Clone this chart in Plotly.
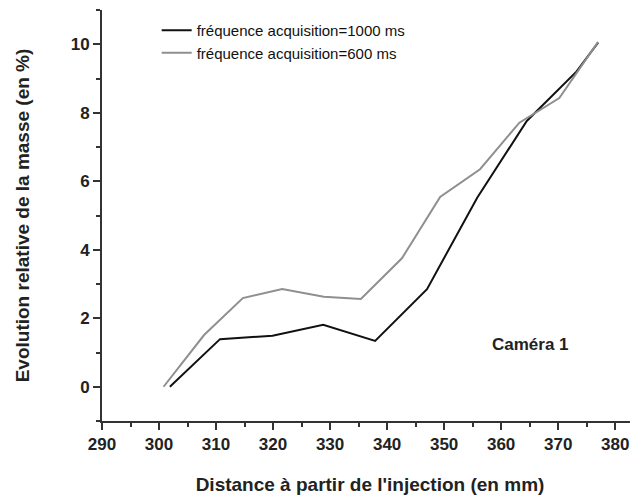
import plotly.graph_objects as go

x_1000 = [301.9, 310.7, 319.9, 328.8, 337.9, 347.0, 355.8, 364.5, 373.2, 377.0]
y_1000 = [0.0, 1.39, 1.49, 1.81, 1.34, 2.85, 5.52, 7.76, 9.2, 10.05]

x_600 = [300.8, 307.9, 314.7, 321.6, 328.9, 335.4, 342.6, 349.3, 356.3, 363.2, 370.2, 377.0]
y_600 = [0.0, 1.51, 2.59, 2.85, 2.63, 2.56, 3.75, 5.54, 6.35, 7.71, 8.43, 10.07]

x_ticks = [290, 300, 310, 320, 330, 340, 350, 360, 370, 380]
y_ticks = [0, 2, 4, 6, 8, 10]

font_family = "Liberation Sans, Arial, sans-serif"

fig = go.Figure()
fig.add_trace(go.Scatter(x=x_1000, y=y_1000, mode="lines",
                         name="fréquence acquisition=1000 ms",
                         line=dict(color="#111111", width=2)))
fig.add_trace(go.Scatter(x=x_600, y=y_600, mode="lines",
                         name="fréquence acquisition=600 ms",
                         line=dict(color="#8f8f8f", width=2)))

fig.add_annotation(x=0.80, y=0.185, xref="paper", yref="paper",
                   xanchor="center", yanchor="middle",
                   text="<b>Caméra 1</b>", showarrow=False,
                   font=dict(size=17, color="#222222", family=font_family))

fig.update_layout(
    width=630, height=491,
    margin=dict(l=94, r=0, t=2, b=78),
    paper_bgcolor="white", plot_bgcolor="white",
    font=dict(family=font_family, color="#222222"),
    showlegend=True,
    legend=dict(x=0.102, y=0.99, xanchor="left", yanchor="top",
                bgcolor="rgba(0,0,0,0)", font=dict(size=15, color="#111111"),
                tracegroupgap=0),
    xaxis=dict(range=[290, 384], tickvals=x_ticks, ticktext=[str(v) for v in x_ticks],
               showgrid=False, zeroline=False, showline=True, linecolor="#333333", linewidth=2,
               ticks="outside", ticklen=7, tickwidth=2, tickcolor="#333333",
               minor=dict(dtick=5, ticks="outside", ticklen=4, tickwidth=2, tickcolor="#333333"),
               tickfont=dict(size=17, family=font_family, color="#222222", weight="bold"),
               title=dict(text="<b>Distance à partir de l'injection (en mm)</b>",
                          font=dict(size=19, family=font_family, color="#222222"), standoff=24)),
    yaxis=dict(range=[-1, 11], tickvals=y_ticks, ticktext=[str(v) for v in y_ticks],
               showgrid=False, zeroline=False, showline=True, linecolor="#333333", linewidth=2,
               ticks="outside", ticklen=7, tickwidth=2, tickcolor="#333333",
               minor=dict(dtick=1, ticks="outside", ticklen=4, tickwidth=2, tickcolor="#333333"),
               tickfont=dict(size=17, family=font_family, color="#222222", weight="bold"),
               title=dict(text="<b>Evolution relative de la masse (en %)</b>",
                          font=dict(size=19, family=font_family, color="#222222"), standoff=36)),
)

fig.write_html("out.html")
